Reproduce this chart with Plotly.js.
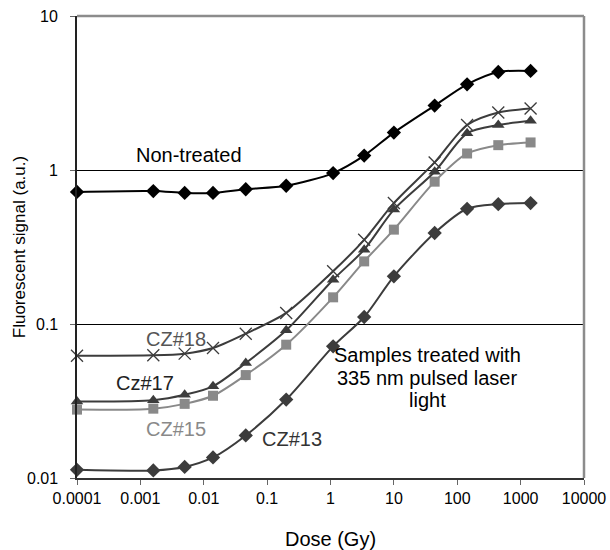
<!DOCTYPE html>
<html>
<head>
<meta charset="utf-8">
<script src="https://cdn.plot.ly/plotly-3.0.1.min.js"></script>
<style>html,body{margin:0;padding:0;background:#fff;}#chart{width:610px;height:550px;}</style>
</head>
<body>
<div id="chart"></div>
<script>
const dose = [0.0001, 0.0016, 0.005, 0.014, 0.046, 0.2, 1.1, 3.4, 10, 44, 143, 444, 1436];
const nonTreated = [0.72, 0.73, 0.71, 0.71, 0.75, 0.79, 0.955, 1.24, 1.75, 2.62, 3.6, 4.33, 4.4];
const cz18 = [0.0622, 0.0626, 0.0642, 0.0698, 0.0865, 0.118, 0.22, 0.352, 0.61, 1.12, 1.96, 2.36, 2.51];
const cz17 = [0.0314, 0.032, 0.0347, 0.0394, 0.0558, 0.091, 0.194, 0.304, 0.553, 0.975, 1.73, 1.96, 2.09];
const cz15 = [0.0278, 0.0282, 0.0303, 0.0342, 0.0466, 0.0734, 0.149, 0.255, 0.41, 0.84, 1.28, 1.45, 1.51];
const cz13 = [0.0113, 0.0112, 0.0118, 0.0136, 0.0189, 0.0323, 0.0716, 0.111, 0.204, 0.39, 0.56, 0.6, 0.61];
const xTickVals = [0.0001, 0.001, 0.01, 0.1, 1, 10, 100, 1000, 10000];
const xTickText = ["0.0001", "0.001", "0.01", "0.1", "1", "10", "100", "1000", "10000"];
const yTickVals = [0.01, 0.1, 1, 10];
const yTickText = ["0.01", "0.1", "1", "10"];
const seriesLabels = ["Non-treated", "CZ#18", "Cz#17", "CZ#15", "CZ#13"];
const noteLines = ["Samples treated with", "335 nm pulsed laser", "light"];

const dark = '#3c3c3c';
const gray = '#898989';
function tr(y, color, symbol, size, lineMarker) {
  const m = {symbol: symbol, size: size, color: color};
  if (lineMarker) m.line = {color: color, width: 1.3};
  return {x: dose, y: y, type: 'scatter', mode: 'lines+markers',
    line: {color: color, width: 2, shape: 'spline', smoothing: 0.8},
    marker: m, cliponaxis: false, showlegend: false, hoverinfo: 'skip'};
}
const data = [
  tr(cz13, dark, 'diamond', 11),
  tr(cz15, gray, 'square', 10),
  tr(cz17, dark, 'triangle-up', 11),
  tr(cz18, dark, 'x-thin', 12, true),
  tr(nonTreated, '#000000', 'diamond', 11)
];
const fam = 'Liberation Sans, Arial, sans-serif';
const tickFont = {family: fam, size: 16, color: '#000'};
const annFont = c => ({family: fam, size: 20, color: c});
function ann(text, lx, ly, color) {
  return {text: text, x: lx, y: ly, xref: 'x', yref: 'y', showarrow: false, font: annFont(color)};
}
const yLabelAnns = yTickVals.map((v, i) => ({
  text: yTickText[i], xref: 'paper', yref: 'y', x: -0.034, y: Math.log10(v),
  xanchor: 'right', yanchor: 'middle', showarrow: false, font: tickFont
}));
const layout = {
  width: 610, height: 550,
  margin: {l: 77, r: 26, t: 16, b: 72},
  paper_bgcolor: '#fff', plot_bgcolor: '#fff',
  font: tickFont, showlegend: false,
  xaxis: {type: 'log', range: [-4, 4], tickmode: 'array', tickvals: xTickVals, ticktext: xTickText,
    showgrid: false, zeroline: false, showline: true, linecolor: '#333', linewidth: 2,
    ticks: 'outside', ticklen: 5, tickcolor: '#666', tickwidth: 1,
    tickfont: tickFont, title: {text: 'Dose (Gy)', font: {family: fam, size: 20, color: '#000'}, standoff: 26}},
  yaxis: {type: 'log', range: [-2, 1], tickmode: 'array', tickvals: yTickVals, ticktext: yTickText,
    showticklabels: false,
    showgrid: true, gridcolor: '#000', gridwidth: 1, zeroline: false,
    showline: true, linecolor: '#222', linewidth: 2,
    ticks: 'outside', ticklen: 5, tickcolor: '#666', tickwidth: 1},
  shapes: [
    {type: 'line', xref: 'paper', yref: 'paper', x0: 0, x1: 1, y0: 1, y1: 1, line: {color: '#8c8c8c', width: 2.5}},
    {type: 'line', xref: 'paper', yref: 'paper', x0: 1, x1: 1, y0: 0, y1: 1, line: {color: '#8c8c8c', width: 2.5}}
  ],
  annotations: yLabelAnns.concat([
    {text: 'Fluorescent signal (a.u.)', xref: 'paper', yref: 'paper', x: -0.114, y: 0.5,
      xanchor: 'center', yanchor: 'middle', textangle: -90, showarrow: false,
      font: {family: fam, size: 17, color: '#000'}},
    ann(seriesLabels[0], -2.229, 0.097, '#000'),
    ann(seriesLabels[1], -2.434, -1.097, '#555'),
    ann(seriesLabels[2], -2.923, -1.383, '#222'),
    ann(seriesLabels[3], -2.434, -1.682, gray),
    ann(seriesLabels[4], -0.605, -1.747, '#333'),
    ann(noteLines[0], 1.524, -1.201, '#000'),
    ann(noteLines[1], 1.524, -1.351, '#000'),
    ann(noteLines[2], 1.524, -1.494, '#000')
  ])
};
Plotly.newPlot('chart', data, layout, {staticPlot: true, displayModeBar: false});
</script>
</body>
</html>
